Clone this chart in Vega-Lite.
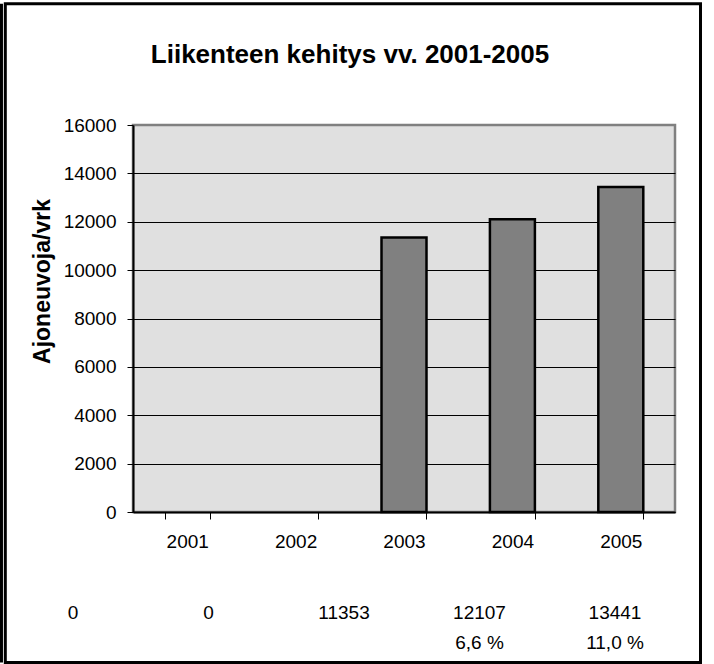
{
  "$schema": "https://vega.github.io/schema/vega-lite/v6.json",
  "width": 542,
  "height": 387,
  "autosize": {"type": "none"},
  "padding": {"left": 133, "top": 125, "right": 39, "bottom": 152},
  "background": "white",
  "title": {
    "text": "Liikenteen kehitys vv. 2001-2005",
    "fontSize": 26,
    "fontWeight": "bold",
    "font": "Liberation Sans",
    "color": "black",
    "anchor": "middle",
    "frame": "group",
    "dx": -54,
    "dy": 87,
    "baseline": "alphabetic",
    "offset": 0
  },
  "data": {
    "values": [
      {"year": "2001", "value": 0, "pct": ""},
      {"year": "2002", "value": 0, "pct": ""},
      {"year": "2003", "value": 11353, "pct": ""},
      {"year": "2004", "value": 12107, "pct": "6,6 %"},
      {"year": "2005", "value": 13441, "pct": "11,0 %"}
    ]
  },
  "resolve": {"scale": {"x": "independent", "y": "independent"}},
  "layer": [
    {
      "transform": [{"filter": "datum.value > 0"}],
      "mark": {"type": "bar", "fill": "#808080", "stroke": "black", "strokeWidth": 2.5},
      "encoding": {
        "x": {
          "field": "year",
          "type": "nominal",
          "scale": {"domain": ["2001", "2002", "2003", "2004", "2005"], "paddingInner": 0.585, "paddingOuter": 0.2925},
          "axis": {
            "title": null,
            "labelAngle": 0,
            "tickBand": "extent",
            "tickSize": 7,
            "tickColor": "black",
            "tickWidth": 1,
            "domainColor": "black",
            "domainWidth": 2,
            "labelFontSize": 19,
            "labelColor": "black",
            "labelPadding": 13,
            "grid": false
          }
        },
        "y": {
          "field": "value",
          "type": "quantitative",
          "scale": {"domain": [0, 16000], "nice": false},
          "axis": {
            "values": [0, 2000, 4000, 6000, 8000, 10000, 12000, 14000, 16000],
            "format": "d",
            "title": "Ajoneuvoja/vrk",
            "titleFont": "Liberation Sans",
            "titleFontSize": 23,
            "titleFontWeight": "bold",
            "titleColor": "black",
            "titleAngle": -90,
            "titleX": -91,
            "titleY": 156,
            "titleAlign": "center",
            "titleBaseline": "middle",
            "grid": true,
            "gridColor": {"condition": {"test": "datum.value === 16000", "value": "#808080"}, "value": "black"},
            "gridWidth": 1,
            "tickSize": 6,
            "tickColor": "black",
            "domainColor": "black",
            "domainWidth": 2,
            "labelFontSize": 19,
            "labelColor": "black",
            "labelPadding": 11
          }
        }
      }
    },
    {
      "transform": [{"fold": ["value", "pct"], "as": ["row", "txt"]}],
      "mark": {"type": "text", "fontSize": 19, "fill": "black"},
      "encoding": {
        "x": {"field": "year", "type": "ordinal", "scale": {"type": "point", "padding": 0, "range": [-60, 482]}, "axis": null},
        "y": {"field": "row", "type": "nominal", "scale": {"type": "point", "padding": 0, "domain": ["value", "pct"], "range": [488, 518]}, "axis": null},
        "text": {"field": "txt", "type": "nominal"}
      }
    },
    {
      "data": {"values": [{}]},
      "layer": [
        {
          "mark": {"type": "rect", "filled": false, "stroke": "black", "strokeWidth": 3},
          "encoding": {
            "x": {"datum": 0, "type": "quantitative", "scale": {"domain": [0, 1], "range": [-127.7, 567.5], "nice": false, "zero": false}, "axis": null},
            "x2": {"datum": 1},
            "y": {"datum": 0, "type": "quantitative", "scale": {"domain": [0, 1], "range": [-121.2, 537.5], "nice": false, "zero": false}, "axis": null},
            "y2": {"datum": 1}
          }
        },
        {
          "mark": {"type": "rule", "stroke": "black", "strokeWidth": 3},
          "encoding": {
            "x": {"datum": -0.0055, "type": "quantitative"},
            "y": {"datum": 0, "type": "quantitative"},
            "y2": {"datum": 1}
          }
        }
      ]
    }
  ],
  "config": {
    "font": "Liberation Sans",
    "view": {"fill": "#E0E0E0", "stroke": "#808080", "strokeWidth": 2.5}
  }
}
